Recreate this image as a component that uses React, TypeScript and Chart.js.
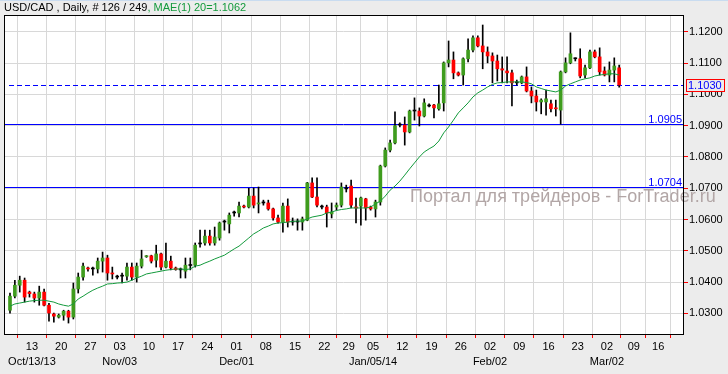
import React, { useEffect, useRef } from 'react';
import { Chart, registerables } from 'chart.js';

Chart.register(...registerables);

// ---- data ----
const openPrices = [
  1.0310, 1.0355, 1.0390, 1.0406, 1.0368, 1.0362, 1.0349, 1.0368, 1.0326, 1.0298,
  1.0288, 1.0294, 1.0307, 1.0288, 1.0378, 1.0416, 1.0445, 1.0442, 1.0442, 1.0467,
  1.0477, 1.0429, 1.0416, 1.0419, 1.0419, 1.0448, 1.0416, 1.0451, 1.0481, 1.0484,
  1.0470, 1.0490, 1.0448, 1.0467, 1.0445, 1.0439, 1.0435, 1.0453, 1.0454, 1.0522,
  1.0525, 1.0547, 1.0525, 1.0541, 1.0592, 1.0586, 1.0621, 1.0621, 1.0643, 1.0640,
  1.0675, 1.0650, 1.0653, 1.0653, 1.0634, 1.0605, 1.0592, 1.0643, 1.0592, 1.0592,
  1.0592, 1.0598, 1.0717, 1.0672, 1.0640, 1.0640, 1.0618, 1.0640, 1.0646, 1.0698,
  1.0707, 1.0640, 1.0643, 1.0666, 1.0640, 1.0634, 1.0656, 1.0771, 1.0822, 1.0845,
  1.0902, 1.0902, 1.0880, 1.0947, 1.0947, 1.0931, 1.0963, 1.0966, 1.0954, 1.0973,
  1.1101, 1.1110, 1.1069, 1.1062, 1.1114, 1.1142, 1.1181, 1.1155, 1.1136, 1.1123,
  1.1107, 1.1082, 1.1075, 1.1069, 1.1037, 1.1037, 1.1056, 1.1011, 1.0995, 1.0976,
  1.0976, 1.0970, 1.0957, 1.0950, 1.1072, 1.1101, 1.1114, 1.1114, 1.1062, 1.1085,
  1.1136, 1.1120, 1.1075, 1.1062, 1.1078, 1.1085,
];
const highPrices = [
  1.0365, 1.0406, 1.0419, 1.0413, 1.0371, 1.0368, 1.0387, 1.0378, 1.0332, 1.0301,
  1.0298, 1.0310, 1.0310, 1.0397, 1.0429, 1.0461, 1.0448, 1.0448, 1.0477, 1.0496,
  1.0486, 1.0448, 1.0422, 1.0429, 1.0461, 1.0461, 1.0461, 1.0502, 1.0485, 1.0486,
  1.0518, 1.0493, 1.0525, 1.0483, 1.0448, 1.0445, 1.0477, 1.0477, 1.0525, 1.0566,
  1.0566, 1.0566, 1.0576, 1.0592, 1.0598, 1.0621, 1.0627, 1.0656, 1.0646, 1.0700,
  1.0701, 1.0704, 1.0662, 1.0662, 1.0637, 1.0614, 1.0653, 1.0666, 1.0605, 1.0602,
  1.0608, 1.0719, 1.0733, 1.0733, 1.0646, 1.0646, 1.0653, 1.0653, 1.0717, 1.0710,
  1.0726, 1.0669, 1.0672, 1.0668, 1.0643, 1.0662, 1.0774, 1.0829, 1.0854, 1.0944,
  1.0909, 1.0928, 1.0950, 1.0989, 1.0957, 1.0986, 1.0970, 1.0968, 1.1030, 1.1104,
  1.1171, 1.1136, 1.1072, 1.1117, 1.1178, 1.1187, 1.1187, 1.1222, 1.1152, 1.1133,
  1.1126, 1.1120, 1.1120, 1.1078, 1.1046, 1.1059, 1.1088, 1.1024, 1.1014, 1.0986,
  1.1014, 1.0982, 1.0982, 1.1075, 1.1117, 1.1197, 1.1117, 1.1146, 1.1094, 1.1142,
  1.1142, 1.1149, 1.1088, 1.1104, 1.1117, 1.1094,
];
const lowPrices = [
  1.0301, 1.0349, 1.0368, 1.0336, 1.0352, 1.0336, 1.0326, 1.0324, 1.0275, 1.0272,
  1.0285, 1.0278, 1.0269, 1.0282, 1.0365, 1.0406, 1.0435, 1.0422, 1.0429, 1.0432,
  1.0406, 1.0410, 1.0410, 1.0397, 1.0406, 1.0406, 1.0400, 1.0445, 1.0479, 1.0461,
  1.0448, 1.0439, 1.0445, 1.0439, 1.0438, 1.0413, 1.0413, 1.0439, 1.0448, 1.0512,
  1.0518, 1.0518, 1.0518, 1.0534, 1.0566, 1.0557, 1.0611, 1.0608, 1.0637, 1.0637,
  1.0637, 1.0621, 1.0646, 1.0630, 1.0598, 1.0588, 1.0560, 1.0576, 1.0582, 1.0566,
  1.0566, 1.0596, 1.0670, 1.0640, 1.0634, 1.0576, 1.0605, 1.0630, 1.0640, 1.0688,
  1.0637, 1.0589, 1.0582, 1.0598, 1.0630, 1.0608, 1.0646, 1.0768, 1.0816, 1.0842,
  1.0896, 1.0838, 1.0877, 1.0918, 1.0899, 1.0928, 1.0960, 1.0925, 1.0950, 1.0947,
  1.1088, 1.1050, 1.1059, 1.1030, 1.1104, 1.1136, 1.1152, 1.1082, 1.1101, 1.1037,
  1.1043, 1.1037, 1.1037, 1.0963, 1.1030, 1.1034, 1.1008, 1.0973, 1.0947, 1.0938,
  1.0934, 1.0944, 1.0931, 1.0905, 1.1069, 1.1098, 1.1107, 1.1053, 1.1053, 1.1082,
  1.1117, 1.1062, 1.1059, 1.1040, 1.1040, 1.1023,
];
const closePrices = [
  1.0355, 1.0390, 1.0406, 1.0352, 1.0363, 1.0349, 1.0368, 1.0326, 1.0301, 1.0291,
  1.0294, 1.0307, 1.0288, 1.0378, 1.0416, 1.0451, 1.0442, 1.0442, 1.0467, 1.0477,
  1.0429, 1.0426, 1.0416, 1.0419, 1.0448, 1.0416, 1.0451, 1.0474, 1.0484, 1.0467,
  1.0490, 1.0448, 1.0467, 1.0445, 1.0440, 1.0439, 1.0454, 1.0453, 1.0518, 1.0522,
  1.0547, 1.0525, 1.0544, 1.0589, 1.0592, 1.0614, 1.0621, 1.0643, 1.0640, 1.0675,
  1.0646, 1.0653, 1.0653, 1.0634, 1.0605, 1.0592, 1.0643, 1.0592, 1.0592, 1.0592,
  1.0602, 1.0717, 1.0672, 1.0646, 1.0640, 1.0621, 1.0624, 1.0646, 1.0704, 1.0698,
  1.0646, 1.0637, 1.0669, 1.0637, 1.0634, 1.0656, 1.0771, 1.0822, 1.0845, 1.0900,
  1.0902, 1.0880, 1.0947, 1.0947, 1.0931, 1.0973, 1.0963, 1.0957, 1.0970, 1.1101,
  1.1110, 1.1069, 1.1062, 1.1114, 1.1142, 1.1181, 1.1155, 1.1136, 1.1123, 1.1107,
  1.1082, 1.1078, 1.1069, 1.1037, 1.1037, 1.1056, 1.1011, 1.0995, 1.0976, 1.0982,
  1.0986, 1.0954, 1.0954, 1.1072, 1.1101, 1.1130, 1.1114, 1.1059, 1.1085, 1.1136,
  1.1120, 1.1072, 1.1062, 1.1078, 1.1091, 1.1030,
];
const maValues = [
  1.0323, 1.0330, 1.0333, 1.0336, 1.0339, 1.0341, 1.0342, 1.0342, 1.0339, 1.0336,
  1.0330, 1.0326, 1.0323, 1.0330, 1.0346, 1.0355, 1.0365, 1.0374, 1.0381, 1.0387,
  1.0394, 1.0395, 1.0397, 1.0398, 1.0400, 1.0406, 1.0413, 1.0419, 1.0426, 1.0429,
  1.0432, 1.0435, 1.0438, 1.0440, 1.0442, 1.0442, 1.0440, 1.0442, 1.0451, 1.0454,
  1.0461, 1.0467, 1.0474, 1.0480, 1.0486, 1.0496, 1.0506, 1.0515, 1.0528, 1.0541,
  1.0554, 1.0563, 1.0573, 1.0579, 1.0586, 1.0589, 1.0590, 1.0592, 1.0594, 1.0595,
  1.0595, 1.0602, 1.0608, 1.0611, 1.0614, 1.0621, 1.0624, 1.0629, 1.0632, 1.0634,
  1.0637, 1.0637, 1.0637, 1.0637, 1.0640, 1.0650, 1.0659, 1.0675, 1.0694, 1.0707,
  1.0723, 1.0742, 1.0762, 1.0781, 1.0800, 1.0816, 1.0826, 1.0835, 1.0851, 1.0877,
  1.0896, 1.0918, 1.0941, 1.0957, 1.0973, 1.0992, 1.1005, 1.1014, 1.1024, 1.1032,
  1.1037, 1.1038, 1.1040, 1.1040, 1.1040, 1.1040, 1.1038, 1.1034, 1.1024, 1.1019,
  1.1014, 1.1011, 1.1008, 1.1014, 1.1027, 1.1034, 1.1040, 1.1046, 1.1050, 1.1053,
  1.1059, 1.1062, 1.1064, 1.1066, 1.1066, 1.1062,
];

// x-axis ticks (in bar-index units) and labels
const xTickPositions = [
  4.5, 10.5, 16.5, 22.5, 28.5, 34.5, 40.5, 46.5, 52.5, 58.5, 64.5, 69.5,
  74.5, 80.5, 86.5, 92.5, 98.5, 104.5, 110.5, 116.5, 122.5, 128, 133,
];
const dayLabels = [
  '13', '20', '27', '03', '10', '17', '24', '01', '08', '15', '22', '29',
  '05', '12', '19', '26', '02', '09', '16', '23', '02', '09', '16',
];
const monthLabels = [
  'Oct/13/13', '', '', 'Nov/03', '', '', '', 'Dec/01', '', '', '', '',
  'Jan/05/14', '', '', '', 'Feb/02', '', '', '', 'Mar/02', '', '',
];
const yTickValues = [1.03, 1.04, 1.05, 1.06, 1.07, 1.08, 1.09, 1.10, 1.11, 1.12];
const levelValues = [1.0905, 1.0704];
const lastPrice = 1.1030;
const titleMain = 'USD/CAD , Daily, # 126 / 249';
const titleMa = ', MAE(1) 20=1.1062';
const watermarkText = 'Портал для трейдеров - ForTrader.ru';

const GREEN = '#3f9c1e';
const RED = '#ff0000';
const FONT = '"Liberation Sans", Arial, sans-serif';

const candleColor = (i: number) =>
  closePrices[i] > openPrices[i] ? GREEN : closePrices[i] < openPrices[i] ? RED : '#000000';

const decorPlugin = {
  id: 'decor',
  beforeDraw(chart: any) {
    const { ctx, chartArea: a, width, height } = chart;
    ctx.save();
    ctx.fillStyle = '#ececec';
    ctx.fillRect(0, 0, width, height);
    ctx.fillStyle = '#c9dcf0';
    ctx.fillRect(0, 0, width, 1);
    ctx.fillStyle = '#ffffff';
    ctx.fillRect(a.left, a.top, a.right - a.left, a.bottom - a.top);
    ctx.restore();
  },
  beforeDatasetsDraw(chart: any) {
    const { ctx, chartArea: a } = chart;
    const y = chart.scales.y;
    ctx.save();
    // watermark
    ctx.font = '18px ' + FONT;
    ctx.fillStyle = '#b2a6a6';
    ctx.textBaseline = 'middle';
    ctx.textAlign = 'left';
    ctx.fillText(watermarkText, a.left + 406, a.top + 182);
    // level lines
    ctx.lineWidth = 1;
    ctx.strokeStyle = '#0000ff';
    ctx.fillStyle = '#0000ff';
    ctx.font = '11px ' + FONT;
    ctx.textAlign = 'right';
    ctx.textBaseline = 'alphabetic';
    levelValues.forEach((v) => {
      const py = Math.round(y.getPixelForValue(v)) + 0.5;
      ctx.beginPath();
      ctx.moveTo(a.left, py);
      ctx.lineTo(a.right, py);
      ctx.stroke();
      ctx.fillText(v.toFixed(4), a.right - 1, py - 2);
    });
    // dashed last price line
    const pl = Math.round(y.getPixelForValue(lastPrice)) + 0.5;
    ctx.setLineDash([5, 3]);
    ctx.beginPath();
    ctx.moveTo(a.left + 5, pl);
    ctx.lineTo(a.right, pl);
    ctx.stroke();
    ctx.restore();
  },
  afterDraw(chart: any) {
    const { ctx, chartArea: a } = chart;
    const y = chart.scales.y;
    ctx.save();
    // frame
    ctx.strokeStyle = '#000000';
    ctx.lineWidth = 1;
    ctx.strokeRect(
      Math.round(a.left) + 0.5,
      Math.round(a.top) + 0.5,
      Math.round(a.right - a.left),
      Math.round(a.bottom - a.top)
    );
    // title
    ctx.font = '11px ' + FONT;
    ctx.textAlign = 'left';
    ctx.textBaseline = 'alphabetic';
    ctx.fillStyle = '#000000';
    ctx.fillText(titleMain, 4, 11);
    const w = ctx.measureText(titleMain).width;
    ctx.fillStyle = '#139a3c';
    ctx.fillText(titleMa, 4 + w, 11);
    // last price box
    const py = Math.round(y.getPixelForValue(lastPrice));
    const bx = Math.round(a.right) + 3;
    ctx.fillStyle = '#ececec';
    ctx.fillRect(bx, py - 6, 39, 13);
    ctx.strokeStyle = '#ff0000';
    ctx.strokeRect(bx + 0.5, py - 5.5, 38, 12);
    ctx.fillStyle = '#0000ff';
    ctx.textBaseline = 'middle';
    ctx.fillText(lastPrice.toFixed(4), bx + 2, py + 1);
    ctx.restore();
  },
};

export default function App() {
  const canvasRef = useRef<HTMLCanvasElement | null>(null);

  useEffect(() => {
    const canvas = canvasRef.current;
    if (!canvas) return;
    Chart.defaults.font.family = FONT;
    Chart.defaults.font.size = 11;
    Chart.defaults.color = '#000000';

    const idx = closePrices.map((_, i) => i);
    const chart = new Chart(canvas, {
      type: 'bar',
      data: {
        datasets: [
          {
            type: 'line',
            label: 'MAE(1) 20',
            data: maValues.map((v, i) => ({ x: i, y: v })),
            borderColor: '#139a3c',
            borderWidth: 1,
            pointRadius: 0,
            tension: 0,
            order: 0,
          } as any,
          {
            type: 'bar',
            label: 'body',
            data: idx.map((i) => ({ x: i, y: [openPrices[i], closePrices[i]] })),
            backgroundColor: (c: any) => candleColor(c.dataIndex),
            barThickness: 3,
            minBarLength: 1,
            grouped: false,
            order: 1,
          } as any,
          {
            type: 'bar',
            label: 'wick',
            data: idx.map((i) => ({ x: i, y: [lowPrices[i], highPrices[i]] })),
            backgroundColor: '#000000',
            barThickness: 1,
            grouped: false,
            order: 2,
          } as any,
        ],
      },
      options: {
        responsive: false,
        animation: false,
        devicePixelRatio: 1,
        layout: { padding: { top: 15, left: 4, right: 0, bottom: 0 } },
        plugins: { legend: { display: false }, tooltip: { enabled: false }, title: { display: false } },
        scales: {
          x: {
            type: 'linear',
            min: -1.23,
            max: 138.1,
            offset: false,
            afterBuildTicks: (s: any) => {
              s.ticks = xTickPositions.map((v) => ({ value: v }));
            },
            afterFit: (s: any) => {
              s.height = 40;
            },
            grid: { color: '#d8d8d8', tickColor: '#ff0000', tickLength: 4, lineWidth: 1 },
            border: { display: false },
            ticks: {
              autoSkip: false,
              maxRotation: 0,
              minRotation: 0,
              padding: 1,
              color: '#000000',
              font: { size: 11, lineHeight: 1.4 },
              callback: (_v: any, i: number) =>
                monthLabels[i] ? [dayLabels[i], monthLabels[i]] : dayLabels[i],
            },
          },
          y: {
            type: 'linear',
            position: 'right',
            min: 1.0234,
            max: 1.1254,
            afterBuildTicks: (s: any) => {
              s.ticks = yTickValues.map((v) => ({ value: v }));
            },
            afterFit: (s: any) => {
              s.width = 45;
            },
            grid: { color: '#d8d8d8', tickColor: '#ff0000', tickLength: 5, lineWidth: 1 },
            border: { display: false },
            ticks: {
              padding: 1,
              color: '#000000',
              font: { size: 11 },
              callback: (v: any) => Number(v).toFixed(4),
            },
          },
        },
      } as any,
      plugins: [decorPlugin],
    });
    return () => chart.destroy();
  }, []);

  return (
    <div style={{ position: 'fixed', left: 0, top: 0, width: 728, height: 374 }}>
      <canvas ref={canvasRef} width={728} height={374} style={{ display: 'block' }} />
    </div>
  );
}
